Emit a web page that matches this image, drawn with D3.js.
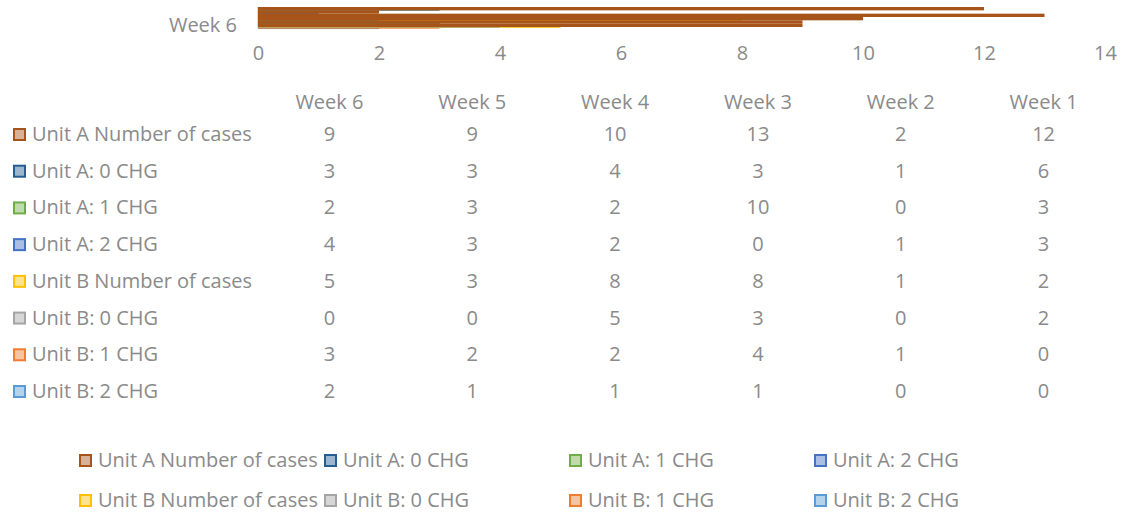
<!DOCTYPE html>
<html><head><meta charset="utf-8">
<script src="https://cdn.jsdelivr.net/npm/d3@7"></script>
<style>body{margin:0;background:#fff;}svg{display:block;}</style>
</head><body>
<script>
const categories = ["Week 6","Week 5","Week 4","Week 3","Week 2","Week 1"];
const seriesNames = ["Unit A Number of cases","Unit A: 0 CHG","Unit A: 1 CHG","Unit A: 2 CHG","Unit B Number of cases","Unit B: 0 CHG","Unit B: 1 CHG","Unit B: 2 CHG"];
const seriesColors = ["#A65419","#255E91","#70AD47","#4472C4","#FFC000","#A5A5A5","#ED7D31","#5B9BD5"];
const unitACases = [9,9,10,13,2,12];
const unitA0 = [3,3,4,3,1,6];
const unitA1 = [2,3,2,10,0,3];
const unitA2 = [4,3,2,0,1,3];
const unitBCases = [5,3,8,8,1,2];
const unitB0 = [0,0,5,3,0,2];
const unitB1 = [3,2,2,4,1,0];
const unitB2 = [2,1,1,1,0,0];
const xTicks = [0,2,4,6,8,10,12,14];

const values = [unitACases,unitA0,unitA1,unitA2,unitBCases,unitB0,unitB1,unitB2];
const W=1121,H=512;
const font = "'Open Sans', Lato, sans-serif";
const FS = 20;
const gray = "#8a8a8a";
const svg = d3.select("body").append("svg").attr("width",W).attr("height",H);

const x = d3.scaleLinear().domain([0,14]).range([258,1105]);
const y = d3.scaleBand().domain(categories).range([27,7]).paddingInner(0).paddingOuter(0);
const bw = y.bandwidth();
const yInner = d3.scaleBand().domain(d3.range(1,8)).range([bw-1.5,bw+1.5]);

// other series first, thin
for (let s=7;s>=1;s--){
  svg.append("g").selectAll("rect").data(categories.map((c,i)=>({c,v:values[s][i]})))
    .join("rect")
    .attr("x",x(0))
    .attr("y",d=>y(d.c)+yInner(s))
    .attr("width",d=>x(d.v)-x(0))
    .attr("height",1)
    .attr("fill",seriesColors[s]);
}
// first series on top, drawn from top category down
svg.append("g").selectAll("rect").data(categories.map((c,i)=>({c,v:values[0][i]})).reverse())
  .join("rect")
  .attr("x",x(0))
  .attr("y",d=>y(d.c))
  .attr("width",d=>x(d.v)-x(0))
  .attr("height",bw)
  .attr("fill",seriesColors[0]);

// category axis line
svg.append("line").attr("x1",x(0)-0.5).attr("x2",x(0)-0.5).attr("y1",7).attr("y2",28).attr("stroke","#d9d9d9");
svg.append("text").attr("x",237).attr("y",25).attr("dy","0.35em").attr("text-anchor","end")
  .attr("font-family",font).attr("font-size",FS).attr("fill",gray).text(categories[0]);

// x axis
const xAxis = d3.axisBottom(x).tickValues(xTicks).tickSize(0).tickPadding(0);
const gx = svg.append("g").attr("transform","translate(0,46)").call(xAxis);
gx.select(".domain").remove();
gx.selectAll("text").attr("font-family",font).attr("font-size",FS).attr("fill",gray).attr("dy","0.71em");

// data table
const colX = d3.scaleBand().domain(categories).range([258,1115]);
const rowY = d3.scalePoint().domain(d3.range(8)).range([134,391]);
const tbl = svg.append("g").attr("font-family",font).attr("font-size",FS).attr("fill",gray);
tbl.selectAll("text.hdr").data(categories).join("text").attr("class","hdr")
  .attr("x",c=>colX(c)+colX.bandwidth()/2).attr("y",102).attr("dy","0.35em")
  .attr("text-anchor","middle").text(c=>c);
seriesNames.forEach((name,s)=>{
  const ry = rowY(s);
  tbl.append("rect").attr("x",14).attr("y",ry-5).attr("width",11).attr("height",11)
    .attr("fill",seriesColors[s]).attr("fill-opacity",0.45).attr("stroke",seriesColors[s]).attr("stroke-width",2);
  tbl.append("text").attr("x",32).attr("y",ry).attr("dy","0.35em").text(name);
  tbl.selectAll(null).data(categories).join("text")
    .attr("x",c=>colX(c)+colX.bandwidth()/2).attr("y",ry).attr("dy","0.35em")
    .attr("text-anchor","middle").text((c,i)=>values[s][i]);
});

// legend
const legX = [80,325,570,815];
const legY = [460,500];
const leg = svg.append("g").attr("font-family",font).attr("font-size",FS).attr("fill",gray);
seriesNames.forEach((name,s)=>{
  const lx = legX[s%4], ly = legY[Math.floor(s/4)];
  leg.append("rect").attr("x",lx).attr("y",ly-5).attr("width",11).attr("height",11)
    .attr("fill",seriesColors[s]).attr("fill-opacity",0.45).attr("stroke",seriesColors[s]).attr("stroke-width",2);
  leg.append("text").attr("x",lx+18).attr("y",ly).attr("dy","0.35em").text(name);
});
</script>
</body></html>
